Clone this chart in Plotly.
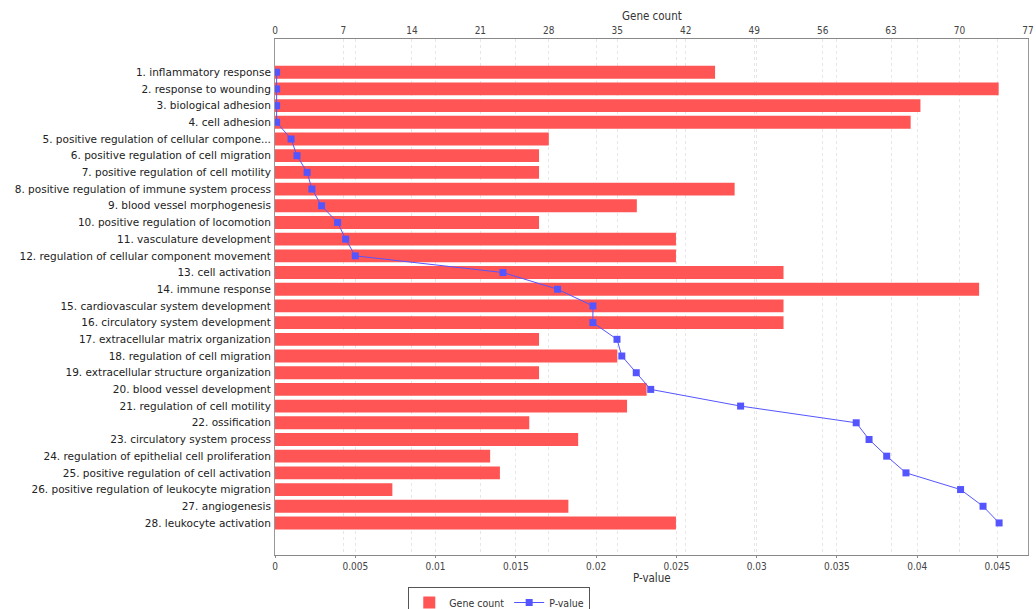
import plotly.graph_objects as go

terms = [
    "1. inflammatory response",
    "2. response to wounding",
    "3. biological adhesion",
    "4. cell adhesion",
    "5. positive regulation of cellular compone...",
    "6. positive regulation of cell migration",
    "7. positive regulation of cell motility",
    "8. positive regulation of immune system process",
    "9. blood vessel morphogenesis",
    "10. positive regulation of locomotion",
    "11. vasculature development",
    "12. regulation of cellular component movement",
    "13. cell activation",
    "14. immune response",
    "15. cardiovascular system development",
    "16. circulatory system development",
    "17. extracellular matrix organization",
    "18. regulation of cell migration",
    "19. extracellular structure organization",
    "20. blood vessel development",
    "21. regulation of cell motility",
    "22. ossification",
    "23. circulatory system process",
    "24. regulation of epithelial cell proliferation",
    "25. positive regulation of cell activation",
    "26. positive regulation of leukocyte migration",
    "27. angiogenesis",
    "28. leukocyte activation",
]
gene_count = [45, 74, 66, 65, 28, 27, 27, 47, 37, 27, 41, 41, 52, 72,
              52, 52, 27, 35, 27, 38, 36, 26, 31, 22, 23, 12, 30, 41]
p_value = [0.0001, 0.0001, 0.0001, 0.0001, 0.0010, 0.00137, 0.0020, 0.0023,
           0.0029, 0.0039, 0.0044, 0.0050, 0.0142, 0.0176, 0.0198, 0.0198,
           0.0213, 0.0216, 0.0225, 0.0234, 0.0290, 0.0362, 0.0370, 0.0381,
           0.0393, 0.0427, 0.0441, 0.0451]
count_ticks = [0, 7, 14, 21, 28, 35, 42, 49, 56, 63, 70, 77]
p_ticks = [0, 0.005, 0.01, 0.015, 0.02, 0.025, 0.03, 0.035, 0.04, 0.045]
p_labels = ["0", "0.005", "0.01", "0.015", "0.02", "0.025", "0.03", "0.035", "0.04", "0.045"]

fig = go.Figure()
fig.add_trace(go.Bar(
    y=terms, x=gene_count, orientation="h", xaxis="x", yaxis="y",
    name="Gene count", marker=dict(color="#FF5555", line=dict(width=0)),
    width=0.77,
))
fig.add_trace(go.Scatter(
    y=terms, x=p_value, xaxis="x2", yaxis="y", mode="lines+markers",
    name="P-value", line=dict(color="#5555FF", width=1),
    marker=dict(symbol="square", size=7, color="#5555FF"),
))

grid = dict(showgrid=True, gridcolor="#e6e6e6", griddash="dot", gridwidth=1)
tickfont = dict(family="DejaVu Sans Condensed, DejaVu Sans", size=10, color="#444444")
titlefont = dict(family="DejaVu Sans Condensed, DejaVu Sans", size=11.5, color="#333333")

# plot area at x 275..1028, y 39..555 (page body margin removed below)
M_L, M_R, M_T, M_B = 275, 8, 39, 54
plot_h = 609 - M_T - M_B

fig.update_layout(
    width=1036, height=609,
    margin=dict(l=M_L, r=M_R, t=M_T, b=M_B, autoexpand=False),
    plot_bgcolor="white", paper_bgcolor="white",
    font=dict(family="DejaVu Sans", size=10, color="#333333"),
    xaxis=dict(
        range=[0, 77], tickvals=count_ticks, side="top",
        showline=True, linecolor="#888888", ticks="",
        tickfont=tickfont, zeroline=False, automargin=False,
        **grid,
    ),
    xaxis2=dict(
        range=[0, 0.0469], tickvals=p_ticks, ticktext=p_labels,
        overlaying="x", side="bottom",
        showline=True, linecolor="#888888", ticks="outside", ticklen=2, tickcolor="#888888",
        tickfont=tickfont, zeroline=False, automargin=False,
        **grid,
    ),
    yaxis=dict(
        type="category", range=[28.92, -1.99], showgrid=False, automargin=False,
        showline=True, linecolor="#999999", mirror=True, ticks="", ticklabelstandoff=1,
        tickfont=dict(family="DejaVu Sans", size=10.5, color="#222222"),
    ),
    annotations=[
        dict(text="Gene count", xref="paper", yref="paper", x=0.5, y=1 + 23 / plot_h,
             xanchor="center", yanchor="middle", showarrow=False, font=titlefont),
        dict(text="P-value", xref="paper", yref="paper", x=0.5, y=-23 / plot_h,
             xanchor="center", yanchor="middle", showarrow=False, font=titlefont),
    ],
    legend=dict(
        orientation="h", x=0.177, y=-32 / plot_h, xanchor="left", yanchor="top",
        bordercolor="#555555", borderwidth=1, bgcolor="white",
        font=dict(family="DejaVu Sans Condensed, DejaVu Sans", size=10.5, color="#333333"),
        tracegroupgap=0, itemwidth=30,
    ),
)
fig.write_html(
    "out.html",
    config={"displayModeBar": False},
    post_script="document.body.style.margin='0';document.body.style.overflow='hidden';",
)
